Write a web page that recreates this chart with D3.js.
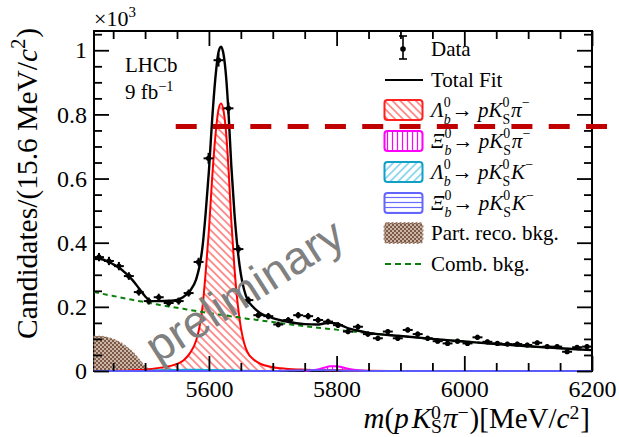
<!DOCTYPE html>
<html><head><meta charset="utf-8">
<script src="https://cdn.jsdelivr.net/npm/d3@7"></script>
<style>
body{margin:0;background:#fff}
svg{display:block;background:#fff}
text{white-space:pre}
</style>
</head><body>
<svg id="c" width="619" height="437"></svg>
<script>
// ---------------- data (values in units of 10^3 candidates / 15.6 MeV) ----------------
const massBins = [5427.8,5443.4,5459.0,5474.6,5490.2,5505.8,5521.4,5537.0,5552.6,5568.2,
  5583.8,5599.4,5615.0,5630.6,5646.2,5661.8,5677.4,5693.0,5708.6,5724.2,
  5739.8,5755.4,5771.0,5786.6,5802.2,5817.8,5833.4,5849.0,5864.6,5880.2,
  5895.8,5911.4,5927.0,5942.6,5958.2,5973.8,5989.4,6005.0,6020.6,6036.2,
  6051.8,6067.4,6083.0,6098.6,6114.2,6129.8,6145.4,6161.0,6176.6,6192.2];
const candidates = [0.355,0.343,0.327,0.296,0.246,0.218,0.230,0.212,0.218,0.243,
  0.340,0.663,0.969,0.819,0.380,0.221,0.174,0.171,0.145,0.159,
  0.174,0.171,0.159,0.154,0.143,0.123,0.138,0.115,0.102,0.123,
  0.102,0.128,0.115,0.102,0.093,0.086,0.093,0.086,0.105,0.091,
  0.086,0.084,0.084,0.081,0.088,0.076,0.076,0.060,0.074,0.076];
const candErr = [0.013,0.013,0.013,0.012,0.011,0.011,0.011,0.010,0.011,0.011,
  0.013,0.017,0.020,0.018,0.013,0.011,0.010,0.010,0.009,0.009,
  0.010,0.010,0.009,0.009,0.009,0.008,0.009,0.008,0.008,0.008,
  0.008,0.008,0.008,0.008,0.007,0.007,0.007,0.007,0.008,0.007,
  0.007,0.007,0.007,0.007,0.007,0.007,0.007,0.006,0.007,0.007];
const binWidth = 15.6;

const fitMass = [5420,5430,5440,5450,5460,5470,5480,5490,5500,5510,
  5520,5540,5550,5560,5570,5580,5585,5590,5595,5600,
  5605,5610,5615,5619,5623,5627,5631,5635,5640,5645,
  5650,5655,5660,5670,5680,5700,5720,5750,5770,5780,
  5790,5800,5810,5820,5830,5850,5900,5950,6000,6050,
  6100,6150,6200];
const totalFit = [0.354,0.350,0.343,0.333,0.321,0.304,0.284,0.259,0.233,0.218,
  0.218,0.219,0.222,0.231,0.249,0.286,0.324,0.388,0.495,0.624,
  0.782,0.911,0.994,1.011,0.986,0.915,0.794,0.642,0.491,0.379,
  0.302,0.254,0.224,0.198,0.181,0.165,0.155,0.146,0.145,0.148,
  0.150,0.148,0.140,0.132,0.127,0.119,0.109,0.100,0.092,0.084,
  0.077,0.071,0.065];
const lbPKsPi = [0,0,0,0,0.001,0.001,0.002,0.003,0.004,0.006,
  0.009,0.016,0.022,0.033,0.055,0.095,0.135,0.200,0.310,0.440,
  0.600,0.730,0.815,0.834,0.810,0.740,0.620,0.470,0.320,0.210,
  0.135,0.088,0.060,0.036,0.023,0.012,0.007,0.004,0.003,0.003,
  0.002,0.002,0.002,0.001,0.001,0.001,0,0,0,0,
  0,0,0];
const xbPKsPi = [0,0,0,0,0,0,0,0,0,0,
  0,0,0,0,0,0,0,0,0,0,
  0,0,0,0,0,0,0,0,0,0,
  0,0,0,0,0,0,0,0,0.005,0.010,
  0.015,0.015,0.011,0.006,0.003,0,0,0,0,0,
  0,0,0];
const lbPKsK = [0,0,0,0,0,0,0,0,0,0.001,
  0.002,0.003,0.003,0.004,0.004,0.004,0.004,0.004,0.003,0.003,
  0.003,0.003,0.003,0.002,0.002,0.002,0.002,0.002,0.002,0.001,
  0.001,0.001,0.001,0.001,0,0,0,0,0,0,
  0,0,0,0,0,0,0,0,0,0,
  0,0,0];
const xbPKsK = [0,0,0,0,0,0,0,0,0,0,
  0,0,0,0,0,0,0,0,0,0,
  0,0,0,0,0,0,0,0,0,0,
  0,0,0,0,0,0,0.001,0.002,0.002,0.002,
  0.002,0.002,0.001,0.001,0.001,0,0,0,0,0,
  0,0,0];
const partReco = [0.108,0.108,0.105,0.099,0.090,0.077,0.060,0.038,0.014,0,
  0,0,0,0,0,0,0,0,0,0,
  0,0,0,0,0,0,0,0,0,0,
  0,0,0,0,0,0,0,0,0,0,
  0,0,0,0,0,0,0,0,0,0,
  0,0,0];
const combBkg = [0.246,0.242,0.238,0.234,0.230,0.226,0.222,0.218,0.215,0.211,
  0.207,0.200,0.197,0.194,0.190,0.187,0.185,0.184,0.182,0.181,
  0.179,0.178,0.176,0.175,0.174,0.173,0.172,0.170,0.169,0.168,
  0.166,0.165,0.163,0.161,0.158,0.153,0.147,0.140,0.135,0.133,
  0.131,0.129,0.126,0.124,0.122,0.118,0.109,0.100,0.092,0.084,
  0.077,0.071,0.065];

const xMajorTicks = [5600,5800,6000,6200];
const xTickLabels = ['5600','5800','6000','6200'];
const xMinorTicks = [5450,5500,5550,5650,5700,5750,5850,5900,5950,6050,6100,6150];
const yMajorTicks = [0,0.2,0.4,0.6,0.8,1.0];
const yTickLabels = ['0','0.2','0.4','0.6','0.8','1'];
const yMinorTicks = [0.05,0.1,0.15,0.25,0.3,0.35,0.45,0.5,0.55,0.65,0.7,0.75,0.85,0.9,0.95,1.05];
const cutLine = {from:5548, to:6224, level:0.762};

// ---------------- drawing ----------------
const SERIF = "'Liberation Serif','Times New Roman',serif";
const SANS = "'Liberation Sans',Arial,sans-serif";
const svg = d3.select('#c');
const M = {l:94, r:592, t:31, b:371};
const x = d3.scaleLinear().domain([5420,6200]).range([M.l, M.r]);
const y = d3.scaleLinear().domain([0,1.06]).range([M.b, M.t]);

const defs = svg.append('defs');
function hatch(id, color, angle, sp, w){
  const p = defs.append('pattern').attr('id',id).attr('patternUnits','userSpaceOnUse')
    .attr('width',sp).attr('height',sp).attr('patternTransform',`rotate(${angle})`);
  p.append('line').attr('x1',sp/2).attr('y1',-1).attr('x2',sp/2).attr('y2',sp+1)
    .attr('stroke',color).attr('stroke-width',w);
}
hatch('hRed','#ff2a2a',-45,5.5,1);
hatch('hMag','#ff00ff',0,5,1.2);
hatch('hCyan','#30b4e0',45,5.5,1);
hatch('hBlue','#6a6aff',90,5,1.2);
const pb = defs.append('pattern').attr('id','pBrown').attr('patternUnits','userSpaceOnUse').attr('width',4).attr('height',4);
pb.append('rect').attr('width',4).attr('height',4).attr('fill','#cbb5a6');
pb.append('rect').attr('width',2).attr('height',2).attr('fill','#7d5a48');
pb.append('rect').attr('x',2).attr('y',2).attr('width',2).attr('height',2).attr('fill','#7d5a48');

const pts = arr => fitMass.map((m,i)=>({m, v:arr[i]}));
const trimmed = arr => pts(arr).filter((d,i)=> d.v>0 || (arr[i-1]>0) || (arr[i+1]>0));
const area = d3.area().x(d=>x(d.m)).y0(y(0)).y1(d=>y(d.v)).curve(d3.curveMonotoneX);
const line = d3.line().x(d=>x(d.m)).y(d=>y(d.v)).curve(d3.curveMonotoneX);

// frame
svg.append('rect').attr('x',M.l).attr('y',M.t).attr('width',M.r-M.l).attr('height',M.b-M.t)
  .attr('fill','none').attr('stroke','#000').attr('stroke-width',2);

const plot = svg.append('g');
plot.append('path').datum(trimmed(partReco)).attr('d',area).attr('fill','url(#pBrown)')
  .attr('stroke','#9a7a68').attr('stroke-width',1.2).attr('stroke-dasharray','2,2');
plot.append('path').datum(trimmed(lbPKsPi)).attr('d',area).attr('fill','url(#hRed)');
plot.append('path').datum(trimmed(lbPKsPi)).attr('d',line).attr('fill','none').attr('stroke','#ff0000').attr('stroke-width',2);
plot.append('path').datum(trimmed(lbPKsK)).attr('d',area).attr('fill','url(#hCyan)');
plot.append('path').datum(trimmed(lbPKsK)).attr('d',line).attr('fill','none').attr('stroke','#10a8d8').attr('stroke-width',2);
plot.append('path').datum(trimmed(xbPKsPi)).attr('d',area).attr('fill','url(#hMag)');
plot.append('path').datum(trimmed(xbPKsPi)).attr('d',line).attr('fill','none').attr('stroke','#ff00ff').attr('stroke-width',2);
plot.append('path').datum(pts(xbPKsK)).attr('d',area).attr('fill','url(#hBlue)');
plot.append('path').datum(pts(xbPKsK)).attr('d',line).attr('fill','none').attr('stroke','#5a5aff').attr('stroke-width',2);
plot.append('path').datum(pts(combBkg)).attr('d',line).attr('fill','none').attr('stroke','#0a800a')
  .attr('stroke-width',2).attr('stroke-dasharray','5,4');
plot.append('path').datum(pts(totalFit)).attr('d',line).attr('fill','none').attr('stroke','#000').attr('stroke-width',2.4);

// data
const dg = plot.append('g');
massBins.forEach((m,i)=>{
  const v = candidates[i], e = candErr[i];
  dg.append('line').attr('x1',x(m-binWidth/2)).attr('x2',x(m+binWidth/2)).attr('y1',y(v)).attr('y2',y(v))
    .attr('stroke','#000').attr('stroke-width',2);
  dg.append('line').attr('x1',x(m)).attr('x2',x(m)).attr('y1',y(v-e)).attr('y2',y(v+e))
    .attr('stroke','#000').attr('stroke-width',2);
  dg.append('circle').attr('cx',x(m)).attr('cy',y(v)).attr('r',2.6).attr('fill','#000');
});

// axes (ROOT style: ticks inside on all four sides)
function styleAxis(g){
  g.select('.domain').remove();
  g.selectAll('line').attr('stroke','#000').attr('stroke-width',1.8);
  g.selectAll('text').attr('font-size',24).attr('font-family',SERIF).attr('fill','#000');
}
const gB = svg.append('g').attr('transform',`translate(0,${M.b})`);
gB.call(d3.axisBottom(x).tickValues(xMajorTicks).tickFormat((d,i)=>xTickLabels[i]).tickSizeInner(-15).tickSizeOuter(0).tickPadding(9)).call(styleAxis);
gB.append('g').call(d3.axisBottom(x).tickValues(xMinorTicks).tickFormat('').tickSizeInner(-8).tickSizeOuter(0)).call(styleAxis);
const gT = svg.append('g').attr('transform',`translate(0,${M.t})`);
gT.call(d3.axisTop(x).tickValues(xMajorTicks).tickFormat('').tickSizeInner(-15).tickSizeOuter(0)).call(styleAxis);
gT.append('g').call(d3.axisTop(x).tickValues(xMinorTicks).tickFormat('').tickSizeInner(-8).tickSizeOuter(0)).call(styleAxis);
const gL = svg.append('g').attr('transform',`translate(${M.l},0)`);
gL.call(d3.axisLeft(y).tickValues(yMajorTicks).tickFormat((d,i)=>yTickLabels[i]).tickSizeInner(-15).tickSizeOuter(0).tickPadding(7)).call(styleAxis);
gL.append('g').call(d3.axisLeft(y).tickValues(yMinorTicks).tickFormat('').tickSizeInner(-8).tickSizeOuter(0)).call(styleAxis);
const gR = svg.append('g').attr('transform',`translate(${M.r},0)`);
gR.call(d3.axisRight(y).tickValues(yMajorTicks).tickFormat('').tickSizeInner(-15).tickSizeOuter(0)).call(styleAxis);
gR.append('g').call(d3.axisRight(y).tickValues(yMinorTicks).tickFormat('').tickSizeInner(-8).tickSizeOuter(0)).call(styleAxis);

// rich text helper: one <text> element, tspans for italic / super / subscripts
function rich(parent, px, py, segs, size, anchor, opts){
  opts = opts || {};
  const t = parent.append('text').attr('font-family',SERIF).attr('font-size',size).attr('fill','#000');
  const small = size*(opts.scale || 0.68);
  const supOff = opts.sup || 0.40, subOff = opts.sub || 0.28;
  let cx = 0;
  const mk = (txt, xx, yy, fs, it) => {
    const s = t.append('tspan').attr('x',xx).attr('y',yy).attr('font-size',fs)
      .attr('font-style', it?'italic':'normal').text(txt);
    return s.node().getComputedTextLength();
  };
  segs.forEach(s=>{
    if (s.stack){
      let w = 0;
      if (s.sup) w = Math.max(w, mk(s.sup, cx, -size*supOff, small, s.supIt));
      if (s.sub) w = Math.max(w, mk(s.sub, cx, size*subOff, small, s.subIt));
      cx += w + 1;
    } else if (s.gap){
      cx += s.gap;
    } else {
      cx += mk(s.t, cx, 0, size, s.it);
    }
  });
  const dx = anchor==='end' ? -cx : anchor==='middle' ? -cx/2 : 0;
  t.attr('transform',`translate(${px+dx},${py})`);
  return t;
}

// axis titles
rich(svg, 590, 428, [{t:'m',it:true},{t:'('},{t:'p',it:true},{gap:3},{t:'K',it:true},{stack:true,sup:'0',sub:'S'},
  {t:'π',it:true},{stack:true,sup:'−'},{t:')[MeV/'},{t:'c',it:true},{stack:true,sup:'2'},{t:']'}], 29, 'end', {sup:0.3, sub:0.17});
const yt = svg.append('g').attr('transform','translate(36.5,28) rotate(-90)');
rich(yt, 0, 0, [{t:'Candidates/(15.6 MeV/'},{t:'c',it:true},{stack:true,sup:'2'},{t:')'}], 29.5, 'end');
rich(svg, 94, 26, [{t:'×10'},{stack:true,sup:'3'}], 22, 'start');

// LHCb label
rich(svg, 125, 72, [{t:'LHCb'}], 21, 'start');
rich(svg, 125, 99, [{t:'9 fb'},{stack:true,sup:'−1'}], 21, 'start');

// legend
const lg = svg.append('g');
const rowY = [49,80,110,141,172,203,233,264];
const sym = (greek, last) => [{t:greek,it:true},{stack:true,sup:'0',sub:'b',subIt:true},{t:'→ '},{t:'p',it:true},
  {t:'K',it:true},{stack:true,sup:'0',sub:'S'},{t:last,it:true},{stack:true,sup:'−'}];
const legendLabels = [[{t:'Data'}],[{t:'Total Fit'}],sym('Λ','π'),sym('Ξ','π'),sym('Λ','K'),sym('Ξ','K'),
  [{t:'Part. reco. bkg.'}],[{t:'Comb. bkg.'}]];
legendLabels.forEach((segs,i)=> rich(lg, 431, rowY[i]+7, segs, 21, 'start', {sup:0.46, sub:0.31, scale:0.66}));
// data marker
lg.append('line').attr('x1',403).attr('x2',403).attr('y1',rowY[0]-13).attr('y2',rowY[0]+10).attr('stroke','#000').attr('stroke-width',1.6);
lg.append('line').attr('x1',399).attr('x2',407).attr('y1',rowY[0]-13).attr('y2',rowY[0]-13).attr('stroke','#000').attr('stroke-width',1.6);
lg.append('line').attr('x1',399).attr('x2',407).attr('y1',rowY[0]+10).attr('y2',rowY[0]+10).attr('stroke','#000').attr('stroke-width',1.6);
lg.append('circle').attr('cx',403).attr('cy',rowY[0]).attr('r',2.8).attr('fill','#000');
lg.append('line').attr('x1',385).attr('x2',423).attr('y1',rowY[1]).attr('y2',rowY[1]).attr('stroke','#000').attr('stroke-width',2);
const boxes = [[2,'url(#hRed)','#ff2020',null],[3,'url(#hMag)','#ff00ff',null],[4,'url(#hCyan)','#10a0c8',null],
  [5,'url(#hBlue)','#6464ff',null],[6,'url(#pBrown)','#a08070','2,2']];
boxes.forEach(([r,fill,stroke,dash])=>{
  lg.append('rect').attr('x',384.5).attr('y',rowY[r]-10).attr('width',38).attr('height',20).attr('rx',3)
    .attr('fill',fill).attr('stroke',stroke).attr('stroke-width',2).attr('stroke-dasharray',dash);
});
lg.append('line').attr('x1',385).attr('x2',423).attr('y1',rowY[7]).attr('y2',rowY[7]).attr('stroke','#0a800a')
  .attr('stroke-width',2).attr('stroke-dasharray','6,4');

// watermark
svg.append('g').attr('transform','translate(249,298) rotate(-32.5)')
  .append('text').attr('text-anchor','middle').attr('y',7).attr('font-family',SANS).attr('font-size',46)
  .attr('fill','#808080').text('preliminary');

// red dashed reference line
svg.append('line').attr('x1',x(cutLine.from)).attr('x2',x(cutLine.to)).attr('y1',y(cutLine.level)).attr('y2',y(cutLine.level))
  .attr('stroke','#c00000').attr('stroke-width',5).attr('stroke-dasharray','21,16.3');
</script>
</body></html>
